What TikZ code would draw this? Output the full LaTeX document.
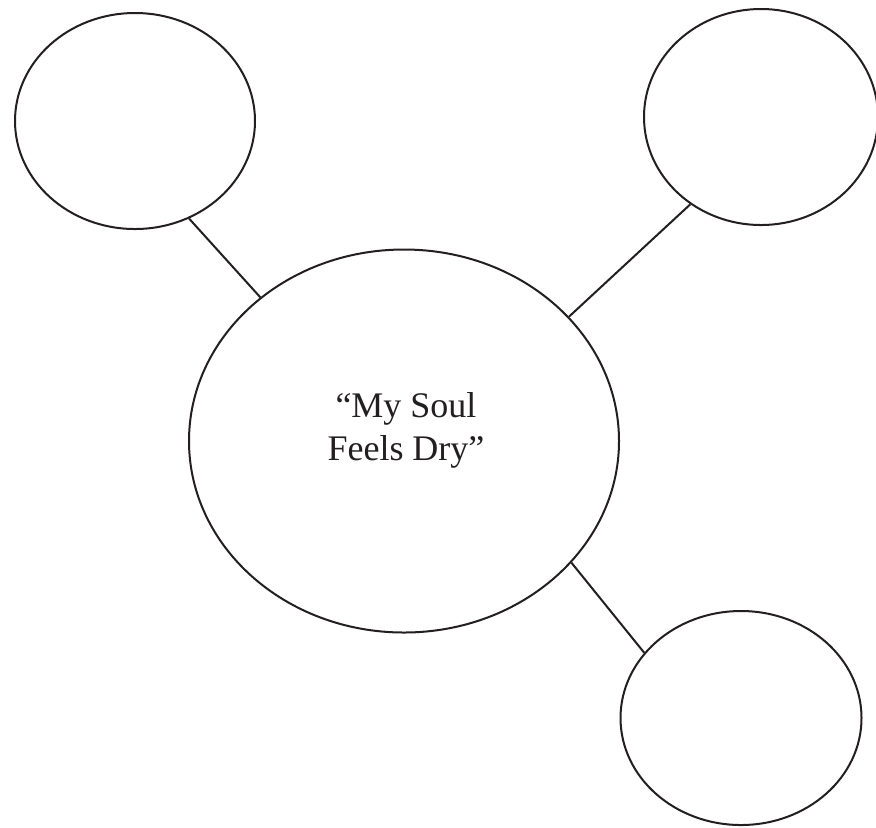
\documentclass[tikz,border=0pt]{standalone}
\usepackage{fontspec}
\setmainfont{Liberation Serif}
\usepackage{tikz}
\usetikzlibrary{shapes.geometric}
\definecolor{ink}{HTML}{231F20}

\begin{document}
\begin{tikzpicture}[x=0.5pt, y=-0.5pt,
    bubble/.style={draw=ink, ellipse, line width=1pt, inner sep=0pt},
    spoke/.style={draw=ink, line width=1pt}]
  % page frame
  \useasboundingbox (0,0) rectangle (876,827);
  % center bubble
  \node[bubble, minimum width=215pt, minimum height=191.5pt] (hub) at (404,441) {};
  \node[inner sep=0pt, align=center, text=ink,
    font=\fontsize{18pt}{21.5pt}\selectfont] (title) at (406,430)
    {``My Soul\\Feels Dry''};
  % outer bubbles
  \node[bubble, minimum width=120pt, minimum height=108pt] (topleft) at (135,121) {};
  \node[bubble, minimum width=117pt, minimum height=108pt] (topright) at (761,117) {};
  \node[bubble, minimum width=120.5pt, minimum height=107pt] (bottomright) at (741,718) {};
  % spokes
  \draw[spoke] (topleft.-61) -- (hub.135);
  \draw[spoke] (topright.-129) -- (hub.37);
  \draw[spoke] (hub.-36) -- (bottomright.146);
\end{tikzpicture}
\end{document}
